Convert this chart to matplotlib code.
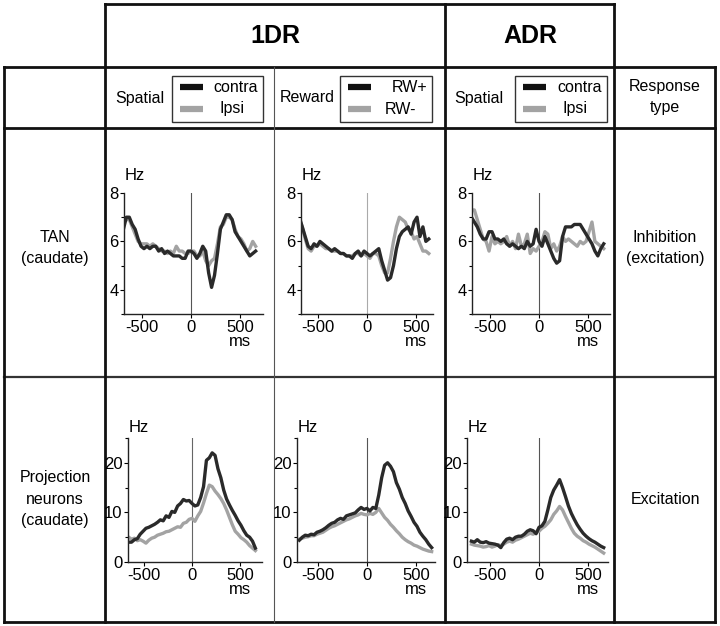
import numpy as np
import matplotlib.pyplot as plt
from matplotlib.patches import Rectangle

plt.rcParams['font.family'] = ['Liberation Sans', 'DejaVu Sans']
plt.rcParams['axes.unicode_minus'] = False

W, H = 720, 626
nan = np.nan

# time bins (ms, aligned on cue)
t_ms = [-690, -660, -630, -600, -570, -540, -510, -480, -450, -420, -390, -360,
        -330, -300, -270, -240, -210, -180, -150, -120, -90, -60, -30, 0,
        30, 60, 90, 120, 150, 180, 210, 240, 270, 300, 330, 360, 390, 420,
        450, 480, 510, 540, 570, 600, 630, 660]

# TAN, 1DR spatial
tan_1dr_contra = [6.5, 7.0, 7.0, 6.7, 6.5, 6.1, 5.8, 5.7, 5.8, 5.7, 5.8, 5.8,
                  5.6, 5.7, 5.5, 5.6, 5.5, 5.4, 5.4, 5.4, 5.3, 5.3, 5.6, 5.6,
                  5.5, 5.3, 5.5, 5.8, 5.6, 4.7, 4.1, 4.6, 5.5, 6.5, 6.8, 7.1,
                  7.1, 6.9, 6.4, 6.2, 6.0, 5.8, 5.6, 5.4, 5.5, 5.6]
tan_1dr_ipsi = [6.8, 6.9, 6.9, 6.6, 6.3, 6.0, 5.9, 5.9, 5.9, 5.8, 5.9, 5.8,
                5.7, 5.6, 5.6, 5.5, 5.6, 5.5, 5.8, 5.6, 5.6, 5.5, 5.5, 5.6,
                5.6, 5.4, 5.4, 5.6, 5.2, 5.0, 5.2, 5.3, 5.9, 6.6, 6.7, 7.0,
                7.0, 6.9, 6.5, 6.2, 6.1, 5.9, 5.6, 5.7, 6.0, 5.8]
# TAN, 1DR reward
tan_rw_plus = [7.0, 6.6, 6.2, 5.8, 5.7, 5.9, 5.8, 6.0, 5.9, 5.8, 5.7, 5.6,
               5.7, 5.6, 5.5, 5.5, 5.4, 5.4, 5.3, 5.5, 5.6, 5.4, 5.6, 5.5,
               5.4, 5.5, 5.6, 5.7, 5.2, 4.8, 4.4, 4.5, 5.0, 5.7, 6.2, 6.4,
               6.5, 6.6, 6.3, 6.8, 7.0, 6.2, 6.6, 6.0, 6.1, nan]
tan_rw_minus = [6.9, 6.6, 6.1, 5.7, 5.6, 5.8, 5.8, 5.9, 5.8, 5.7, 5.7, 5.6,
                5.6, 5.6, 5.5, 5.5, 5.4, 5.4, 5.4, 5.5, 5.5, 5.4, 5.5, 5.4,
                5.3, 5.5, 5.5, 5.4, 5.0, 4.7, 4.7, 5.3, 6.0, 6.6, 7.0, 6.9,
                6.8, 6.5, 6.4, 6.1, 6.2, 5.9, 5.6, 5.6, 5.5, nan]
# TAN, ADR spatial
tan_adr_contra = [7.0, 6.8, 6.6, 6.3, 6.1, 6.1, 6.4, 6.4, 6.1, 6.1, 6.0, 6.1,
                  5.9, 5.8, 5.9, 5.8, 5.7, 5.8, 5.7, 6.0, 5.8, 5.9, 6.5, 6.0,
                  5.8, 6.2, 5.9, 5.6, 5.3, 5.1, 5.2, 6.2, 6.6, 6.6, 6.6, 6.7,
                  6.7, 6.7, 6.5, 6.3, 6.1, 5.9, 5.6, 5.4, 5.7, 5.9]
tan_adr_ipsi = [7.3, 7.3, 6.9, 6.5, 6.1, 6.0, 5.6, 6.2, 5.9, 6.0, 5.9, 6.0,
                6.2, 5.8, 6.0, 5.7, 6.3, 5.8, 5.9, 6.3, 5.5, 5.7, 5.6, 5.8,
                6.0, 6.4, 6.3, 5.7, 5.9, 5.6, 5.8, 6.2, 6.0, 6.1, 6.0, 5.9,
                5.8, 6.0, 5.9, 6.0, 6.4, 6.8, 6.0, 5.9, 5.8, 5.7]

# projection neurons, 1DR spatial
pn_1dr_contra = [nan, 4.0, 4.0, 4.5, 4.7, 5.6, 6.2, 6.8, 7.0, 7.3, 7.6, 8.0,
                 8.5, 8.3, 9.3, 9.0, 10.2, 10.0, 11.3, 11.8, 12.6, 12.3, 12.4, 11.8,
                 11.3, 11.5, 13.0, 15.2, 20.5, 21.0, 22.0, 21.5, 18.8, 17.0, 14.5, 12.7,
                 11.5, 10.4, 9.4, 8.3, 7.4, 6.3, 5.4, 5.0, 4.2, 2.8]
pn_1dr_ipsi = [nan, 5.0, 4.6, 4.8, 4.3, 4.5, 4.2, 3.8, 4.4, 4.8, 5.0, 5.4,
               5.6, 5.8, 6.1, 6.2, 6.5, 6.8, 7.1, 7.0, 7.8, 8.0, 8.6, 8.8,
               8.2, 9.3, 10.2, 11.9, 13.8, 15.5, 15.2, 14.3, 13.6, 12.8, 11.8, 10.5,
               9.0, 7.5, 6.2, 5.6, 4.9, 4.5, 4.0, 3.3, 2.8, 2.3]
# projection neurons, 1DR reward
pn_rw_plus = [4.4, 5.0, 5.4, 5.3, 5.6, 5.5, 6.0, 6.2, 6.5, 6.9, 7.4, 7.8,
              8.0, 8.5, 8.8, 8.6, 9.3, 9.5, 9.7, 9.9, 10.5, 11.0, 10.6, 10.8,
              10.3, 11.0, 10.8, 13.5, 17.0, 19.5, 20.0, 19.3, 18.2, 16.0, 14.7, 13.0,
              11.8, 10.3, 9.2, 8.0, 7.2, 6.0, 5.2, 4.5, 3.6, 2.9]
pn_rw_minus = [4.6, 4.8, 5.0, 5.1, 5.3, 5.3, 5.6, 5.8, 6.0, 6.4, 6.8, 7.1,
               7.3, 7.6, 7.9, 8.2, 8.5, 8.7, 9.0, 9.3, 9.5, 9.8, 9.6, 9.5,
               9.8, 9.6, 10.0, 10.8, 9.9, 9.0, 8.4, 7.6, 7.0, 6.3, 5.7, 5.0,
               4.5, 4.1, 3.8, 3.4, 3.2, 2.9, 2.6, 2.4, 2.2, 2.1]
# projection neurons, ADR spatial
pn_adr_contra = [4.2, 4.0, 4.5, 4.0, 3.9, 4.1, 3.8, 3.7, 3.6, 3.4, 2.9, 3.9,
                 4.6, 4.8, 4.5, 5.0, 5.2, 5.2, 5.6, 6.2, 6.5, 6.3, 5.7, 7.0,
                 7.3, 8.2, 10.5, 13.0, 14.5, 15.5, 16.6, 15.0, 13.2, 11.3, 9.8, 8.6,
                 7.5, 6.6, 5.8, 5.2, 4.7, 4.3, 4.0, 3.6, 3.2, 2.9]
pn_adr_ipsi = [3.6, 3.4, 3.3, 3.2, 3.0, 3.1, 3.3, 3.0, 3.2, 3.5, 3.3, 3.6,
               4.0, 4.2, 4.0, 4.4, 4.6, 4.9, 5.2, 5.5, 5.8, 5.6, 6.0, 6.2,
               6.8, 7.2, 7.8, 8.5, 9.6, 10.3, 11.2, 10.5, 9.2, 8.0, 6.8, 5.8,
               5.2, 4.8, 4.3, 4.0, 3.6, 3.3, 3.0, 2.6, 2.2, 1.8]

col_titles = ['1DR', 'ADR']
cond_labels = ['Spatial', 'Reward', 'Spatial']
legend_labels = [('contra', 'Ipsi'), ('RW+', 'RW-'), ('contra', 'Ipsi')]
row_labels = ['TAN\n(caudate)', 'Projection\nneurons\n(caudate)']
resp_labels = ['Inhibition\n(excitation)', 'Excitation']

BLACK = '#2a2a2a'
GRAY = '#a3a3a3'

fig = plt.figure(figsize=(7.2, 6.26), dpi=100)

# background layer in pixel coordinates for the table frame and labels
bg = fig.add_axes([0, 0, 1, 1])
bg.set_xlim(0, W)
bg.set_ylim(H, 0)
bg.axis('off')


def seg(x0, y0, x1, y1, lw=2.0, color='#111111'):
    bg.plot([x0, x1], [y0, y1], color=color, lw=lw, solid_capstyle='projecting')


# header box
seg(105, 4, 614, 4)
for x in (105, 445, 614):
    seg(x, 4, x, 67)
# main grid
for y in (67, 128, 622):
    seg(4, y, 715, y)
seg(4, 377, 715, 377, lw=1.6, color='#333333')
for x in (4, 105, 445, 614, 715):
    seg(x, 67, x, 622)
seg(274, 67, 274, 622, lw=0.8, color='#555555')

bg.text(275, 36, col_titles[0], ha='center', va='center', fontsize=18, fontweight='bold')
bg.text(530, 36, col_titles[1], ha='center', va='center', fontsize=18, fontweight='bold')

# condition cells with small legends
cond_x = [140, 307, 479]
box_x = [(172, 263), (340, 432), (515, 607)]
for cx, (b0, b1), lab, (l1, l2) in zip(cond_x, box_x, cond_labels, legend_labels):
    bg.text(cx, 98, lab, ha='center', va='center', fontsize=11.5)
    bg.add_patch(Rectangle((b0, 76), b1 - b0, 46, fill=False, lw=1.0, ec='#333333'))
    bg.plot([b0 + 8, b0 + 31], [87, 87], color='#111111', lw=4.5, solid_capstyle='butt')
    bg.plot([b0 + 8, b0 + 31], [109, 109], color=GRAY, lw=4.5, solid_capstyle='butt')
    bg.text(b1 - 5, 87, l1, ha='right', va='center', fontsize=11.5)
    bg.text(b0 + 60, 109, l2, ha='center', va='center', fontsize=11.5)

bg.text(665, 97, 'Response\ntype', ha='center', va='center', fontsize=11.5, linespacing=1.5)
bg.text(55, 248, row_labels[0], ha='center', va='center', fontsize=11.5, linespacing=1.55)
bg.text(55, 499, row_labels[1], ha='center', va='center', fontsize=11.5, linespacing=1.55)
bg.text(665, 248, resp_labels[0], ha='center', va='center', fontsize=11.5, linespacing=1.55)
bg.text(665, 500, resp_labels[1], ha='center', va='center', fontsize=11.5)

# panel placement (pixels): left, right, top, bottom, xlim
panels = [
    (124, 263, 193, 314, (-684, 735), tan_1dr_contra, tan_1dr_ipsi, '#555555'),
    (301, 433, 193, 314, (-673, 673), tan_rw_plus, tan_rw_minus, '#aaaaaa'),
    (472, 610, 193, 314, (-684, 724), tan_adr_contra, tan_adr_ipsi, '#555555'),
    (128, 262, 438, 562, (-667, 729), pn_1dr_contra, pn_1dr_ipsi, '#666666'),
    (297, 435, 438, 562, (-714, 694), pn_rw_plus, pn_rw_minus, '#555555'),
    (467, 608, 438, 562, (-735, 704), pn_adr_contra, pn_adr_ipsi, '#555555'),
]

for i, (left, right, top, bottom, xlim, dark, light, zc) in enumerate(panels):
    tan = i < 3
    ax = fig.add_axes([left / W, 1 - bottom / H, (right - left) / W, (bottom - top) / H])
    ax.set_facecolor('none')
    ylim = (3, 8) if tan else (0, 25)
    ax.set_xlim(*xlim)
    ax.set_ylim(*ylim)
    ax.plot([0, 0], ylim, color=zc, lw=0.8, zorder=1)
    ax.plot(t_ms, light, color=GRAY, lw=2.4, zorder=2)
    ax.plot(t_ms, dark, color=BLACK, lw=2.4, zorder=3)
    for s in ('top', 'right'):
        ax.spines[s].set_visible(False)
    for s in ('left', 'bottom'):
        ax.spines[s].set_linewidth(1.0)
        ax.spines[s].set_color('#222222')
    ax.set_xticks([-500, 0, 500])
    ax.set_xticklabels(['-500', '0', '500'])
    if tan:
        ax.set_yticks([4, 6, 8])
        ax.set_yticks([3, 5, 7], minor=True)
    else:
        ax.set_yticks([0, 10, 20])
        ax.set_yticks([5, 15, 25], minor=True)
    ax.tick_params(axis='both', which='major', direction='out', length=3, width=0.8,
                   labelsize=12, pad=1)
    ax.tick_params(axis='y', which='minor', direction='out', length=2, width=0.8)
    # axis unit labels
    hz_y = top - 18 if tan else top - 11
    bg.text(left + 1, hz_y, 'Hz', ha='left', va='center', fontsize=12)
    ms_x = left + (500 - xlim[0]) / (xlim[1] - xlim[0]) * (right - left)
    bg.text(ms_x, bottom + 28, 'ms', ha='center', va='center', fontsize=12)

fig.savefig('out.png', dpi=100)
